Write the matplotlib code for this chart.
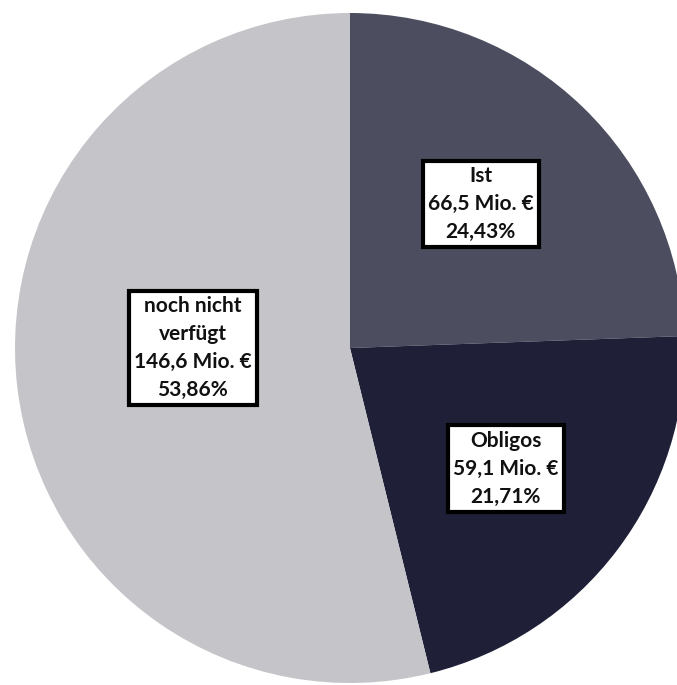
import matplotlib
matplotlib.use("Agg")
import matplotlib.pyplot as plt

categories = ["Ist", "Obligos", "noch nicht\nverfügt"]
values = [66.5, 59.1, 146.6]
colors = ["#4c4e60", "#1f2038", "#c5c5c9"]
label_pos = [(0.39, 0.43), (0.465, -0.36), (-0.47, 0.0)]

W, H = 677, 685
cx, cy, R = 350, 348, 335

fig = plt.figure(figsize=(W / 100, H / 100), dpi=100)
ax = fig.add_axes([0, 0, 1, 1])
ax.pie(values, colors=colors, startangle=90, counterclock=False, radius=1,
       wedgeprops=dict(linewidth=0))
ax.set_aspect("auto")
ax.set_xlim(-cx / R, (W - cx) / R)
ax.set_ylim(-(H - cy) / R, cy / R)
ax.axis("off")

total = sum(values)
for cat, v, (x, y) in zip(categories, values, label_pos):
    pct = v / total * 100
    val_s = f"{v:.1f}".replace(".", ",")
    pct_s = f"{pct:.2f}".replace(".", ",")
    txt = f"{cat}\n{val_s} Mio. €\n{pct_s}%"
    ax.text(x, y, txt, ha="center", va="center", fontsize=15, fontweight="bold",
            family=["Lato", "DejaVu Sans"], color="#111111", linespacing=1.5,
            bbox=dict(boxstyle="square,pad=0.25", facecolor="white", edgecolor="black", linewidth=3))

fig.savefig("out.png", dpi=100)
